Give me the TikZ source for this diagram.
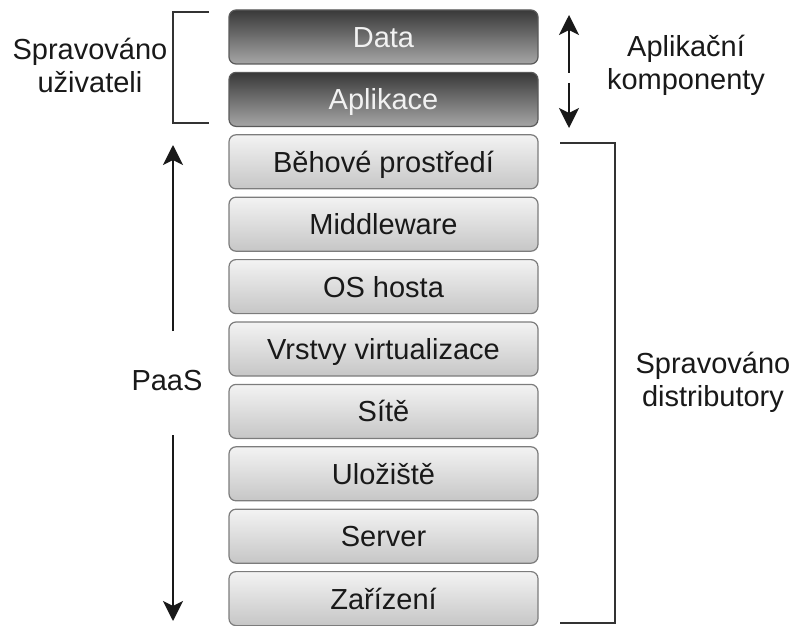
\documentclass[tikz,border=0pt]{standalone}
\usepackage{fontspec}
\setmainfont{Liberation Sans}
\usetikzlibrary{arrows.meta}

\definecolor{darktop}{HTML}{393939}
\definecolor{darkbot}{HTML}{A6A6A6}
\definecolor{darkline}{HTML}{5A5A5A}
\definecolor{lighttop}{HTML}{F3F3F3}
\definecolor{lightbot}{HTML}{C6C6C6}
\definecolor{lightline}{HTML}{7C7C7C}

\tikzset{
  layer/.style={rounded corners=7pt, minimum width=309pt, minimum height=54pt,
    draw=lightline, line width=1.2pt, top color=lighttop, bottom color=lightbot,
    text=black!90, inner sep=0pt, text height=21pt, text depth=0pt,
    font=\fontsize{29}{33}\selectfont},
  userlayer/.style={layer, draw=darkline, top color=darktop, bottom color=darkbot,
    text=white!95!black},
  bracket/.style={draw=black!80, line width=1.6pt},
  side/.style={align=center, font=\fontsize{29}{33}\selectfont, text=black!90},
  pil/.style={-{Stealth[length=20pt,width=20pt,inset=5pt]}, line width=2pt, draw=black!90}
}

\begin{document}
\begin{tikzpicture}[x=1pt,y=-1pt]
\useasboundingbox (0,0) rectangle (793,626);

% vrstvy
\node[userlayer] (data) at (383.5,37.0) {Data};
\node[userlayer] (apl) at (383.5,99.4) {Aplikace};
\node[layer] (beh) at (383.5,161.8) {Běhové prostředí};
\node[layer] (mid) at (383.5,224.2) {Middleware};
\node[layer] (os) at (383.5,286.6) {OS hosta};
\node[layer] (virt) at (383.5,349.0) {Vrstvy virtualizace};
\node[layer] (site) at (383.5,411.4) {Sítě};
\node[layer] (ulo) at (383.5,473.8) {Uložiště};
\node[layer] (srv) at (383.5,536.2) {Server};
\node[layer] (zar) at (383.5,598.6) {Zařízení};

% popisky
\node[side] (uziv) at (90,65) {Spravováno\\uživateli};
\node[side] (komp) at (686,65) {Aplikační\\komponenty};
\node[side] (dist) at (713,382) {Spravováno\\distributory};
\node[side] (paas) at (167,381) {PaaS};

% zavorky
\draw[bracket] (209,12) -- (173,12) -- (173,123) -- (209,123);
\draw[bracket] (560,143) -- (615,143) -- (615,623) -- (560,623);

% sipky
\coordinate (k1) at (569,73);
\coordinate (k2) at (569,83);
\draw[pil] (k1) -- (569,15);
\draw[pil] (k2) -- (569,128);
\coordinate (p1) at (173,331);
\coordinate (p2) at (173,435);
\draw[pil] (p1) -- (173,145);
\draw[pil] (p2) -- (173,621);

\end{tikzpicture}
\end{document}
